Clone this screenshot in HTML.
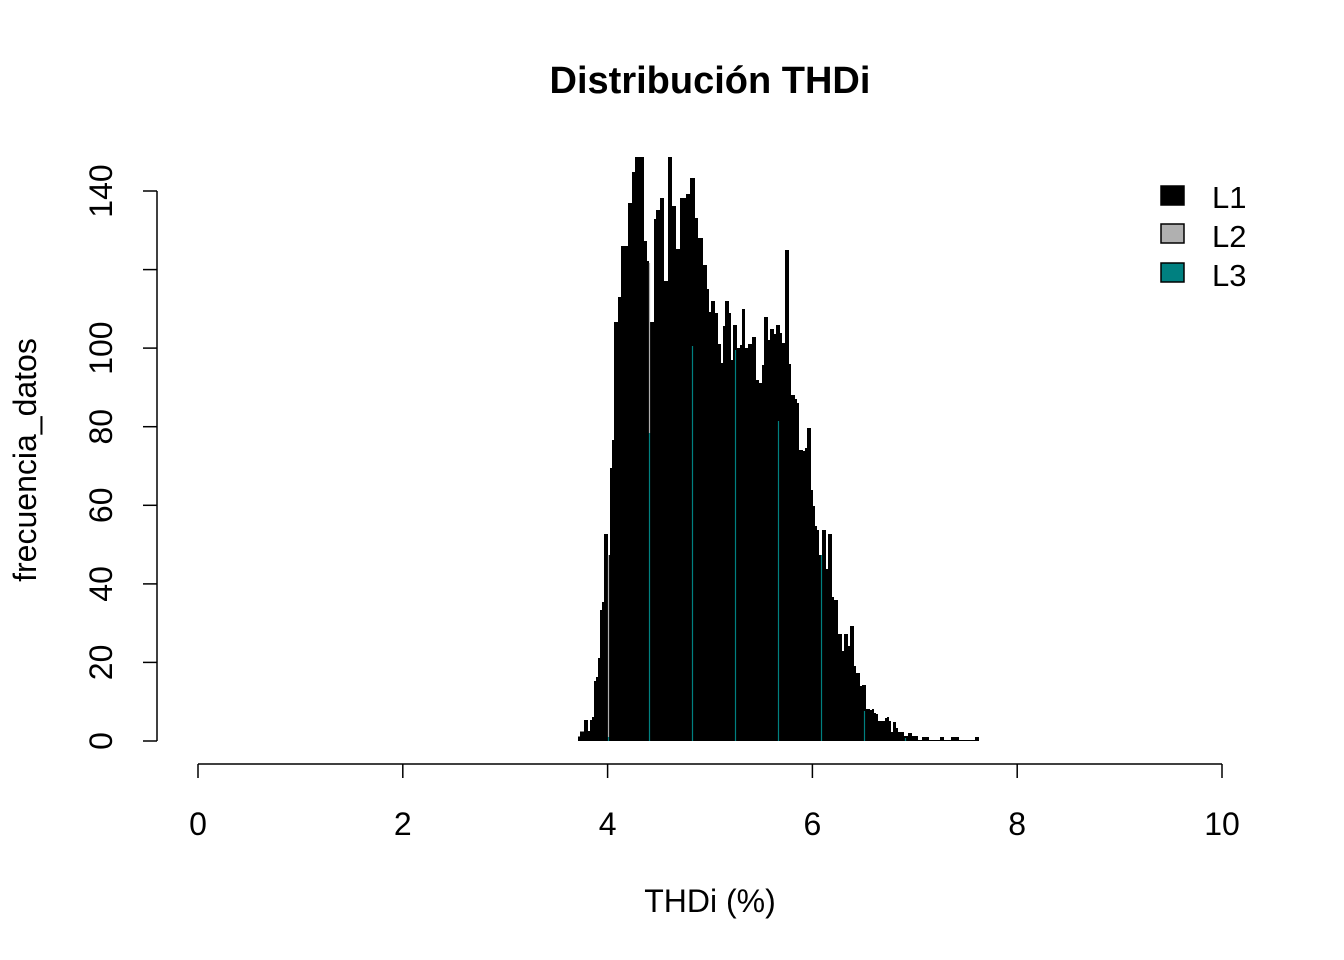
<!DOCTYPE html>
<html><head><meta charset="utf-8"><style>
html,body{margin:0;padding:0;background:#fff}
svg{display:block}
text{font-family:"Liberation Sans",Arial,sans-serif;fill:#000}
</style></head><body>
<svg width="1344" height="960" viewBox="0 0 1344 960" xmlns="http://www.w3.org/2000/svg">
<text x="710" y="93" font-size="38" font-weight="bold" text-anchor="middle">Distribución THDi</text>
<path fill="#000" d="M578,741 V736.5 H580 V731.5 H584 V720 H588 V731 H590 V720 H592 V717 H594 V681 H596 V677 H598 V658 H600 V610 H602 V602 H604 V534 H608 V555 H610 V468 H612 V440 H614 V322 H618 V297 H621 V246 H628 V203 H632 V172 H635 V157 H644 V241 H647 V261 H649 V322 H654 V219 H656 V210 H660 V198 H664 V281 H668 V157 H672 V206 H676 V249 H680 V198 H686 V194 H690 V178 H695 V218 H698 V238 H703 V265 H707 V289 H709 V312 H711 V301 H715 V313 H718 V344 H721 V363 H723 V326 H725 V301 H729 V313 H731 V360 H733 V325 H737 V348 H740 V345 H742 V309 H745 V348 H748 V344 H752 V337 H756 V380 H759 V383 H762 V365 H764 V317 H768 V340 H770 V329 H774 V334 H776 V325 H780 V333 H782 V343 H785 V250 H789 V364 H791 V395 H795 V399 H797 V403 H799 V450 H803 V451 H805 V448 H807 V428 H811 V490 H813 V506 H815 V526 H817 V530 H819 V555 H822 V530 H826 V569 H828 V534 H832 V597 H834 V600 H838 V634 H842 V651 H844 V634 H848 V646 H850 V626 H854 V666 H856 V673 H860 V686 H862 V685 H866 V709 H870 V710 H872 V709 H874 V713 H876 V714 H878 V721 H885 V718 H887 V717 H889 V721 H891 V732 H893 V722 H896 V728 H898 V732 H904 V736 H908 V733 H912 V736 H918 V740 H922 V737 H929 V740 H940 V737 H944 V740 H951 V737 H959 V740 H975 V737 H979 V741 Z"/>
<g stroke-width="1.2">
<line x1="608.5" y1="555" x2="608.5" y2="737" stroke="#b0b0b0"/>
<line x1="608.5" y1="737" x2="608.5" y2="741" stroke="#008080"/>
<line x1="649.5" y1="263" x2="649.5" y2="433" stroke="#b0b0b0"/>
<line x1="649.5" y1="433" x2="649.5" y2="741" stroke="#008080"/>
<line x1="692.5" y1="346" x2="692.5" y2="741" stroke="#008080"/>
<line x1="735.5" y1="350" x2="735.5" y2="741" stroke="#008080"/>
<line x1="778.5" y1="421" x2="778.5" y2="741" stroke="#008080"/>
<line x1="821.5" y1="555" x2="821.5" y2="741" stroke="#008080"/>
<line x1="864.5" y1="711" x2="864.5" y2="741" stroke="#008080"/>
<line x1="905.5" y1="738" x2="905.5" y2="741" stroke="#008080"/>
</g>
<g stroke="#000" stroke-width="1.5" fill="none">
<line x1="157" y1="191" x2="157" y2="741"/>
<line x1="143" y1="741" x2="157" y2="741"/>
<line x1="143" y1="662.4" x2="157" y2="662.4"/>
<line x1="143" y1="583.9" x2="157" y2="583.9"/>
<line x1="143" y1="505.3" x2="157" y2="505.3"/>
<line x1="143" y1="426.7" x2="157" y2="426.7"/>
<line x1="143" y1="348.1" x2="157" y2="348.1"/>
<line x1="143" y1="269.6" x2="157" y2="269.6"/>
<line x1="143" y1="191" x2="157" y2="191"/>
<line x1="198" y1="764" x2="1222" y2="764"/>
<line x1="198" y1="764" x2="198" y2="778"/>
<line x1="402.8" y1="764" x2="402.8" y2="778"/>
<line x1="607.6" y1="764" x2="607.6" y2="778"/>
<line x1="812.4" y1="764" x2="812.4" y2="778"/>
<line x1="1017.2" y1="764" x2="1017.2" y2="778"/>
<line x1="1222" y1="764" x2="1222" y2="778"/>
</g>
<g font-size="32" text-anchor="middle">
<text transform="translate(112,741) rotate(-90)">0</text>
<text transform="translate(112,662.4) rotate(-90)">20</text>
<text transform="translate(112,583.9) rotate(-90)">40</text>
<text transform="translate(112,505.3) rotate(-90)">60</text>
<text transform="translate(112,426.7) rotate(-90)">80</text>
<text transform="translate(112,348.1) rotate(-90)">100</text>
<text transform="translate(112,191) rotate(-90)">140</text>
<text transform="translate(36,460) rotate(-90)">frecuencia_datos</text>
<text x="198" y="835">0</text>
<text x="402.8" y="835">2</text>
<text x="607.6" y="835">4</text>
<text x="812.4" y="835">6</text>
<text x="1017.2" y="835">8</text>
<text x="1222" y="835">10</text>
<text x="710" y="912">THDi (%)</text>
</g>
<rect x="1161" y="186" width="23" height="19" fill="#000" stroke="#000" stroke-width="1.5"/>
<rect x="1161" y="224" width="23" height="19" fill="#b0b0b0" stroke="#000" stroke-width="1.5"/>
<rect x="1161" y="263" width="23" height="19" fill="#008080" stroke="#000" stroke-width="1.5"/>
<g font-size="31">
<text x="1212" y="208">L1</text>
<text x="1212" y="247">L2</text>
<text x="1212" y="286">L3</text>
</g>
</svg>
</body></html>
